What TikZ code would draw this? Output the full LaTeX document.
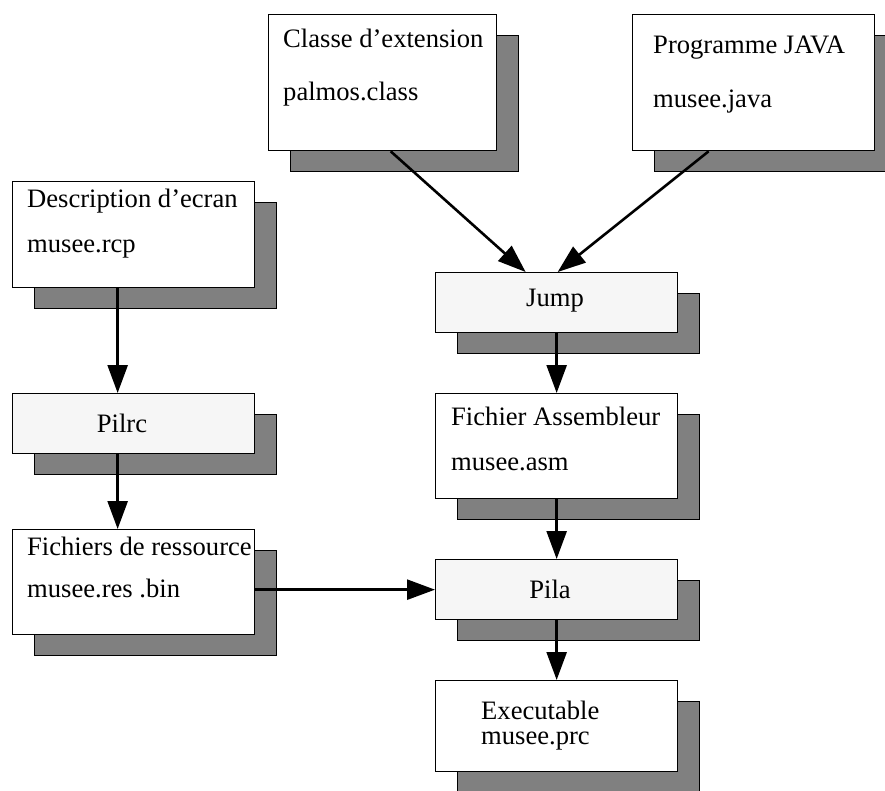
\documentclass[tikz,border=0pt]{standalone}
\usepackage{fontspec}
\setmainfont{Liberation Serif}
\usetikzlibrary{shapes,arrows.meta,positioning,shadows}
\definecolor{ombre}{gray}{0.5}
\definecolor{clair}{gray}{0.965}
\tikzset{
  boite/.style={draw, line width=1.3pt, fill=white, anchor=north west, inner sep=0pt,
    minimum width=242pt,
    drop shadow={shadow xshift=22pt, shadow yshift=-21pt, fill=ombre, draw=black,
      line width=1.3pt, opacity=1}},
  outil/.style={boite, fill=clair, minimum height=60pt},
  texte/.style={anchor=base west, inner sep=0pt},
  titre/.style={anchor=base, inner sep=0pt}
}
\begin{document}
\begin{tikzpicture}[x=1pt, y=-1pt, >={Triangle[length=28pt,width=20pt]},
font=\fontsize{26.6}{30}\selectfont]
        \useasboundingbox (0,0) rectangle (885,790);
        \clip (0,0) rectangle (885,790);
        % boites
        \node [boite, minimum width=228pt, minimum height=136pt] (cls) at (268,14) {};
        \node [boite, minimum height=136pt] (java) at (632,14) {};
        \node [boite, minimum height=106pt] (desc) at (12,181) {};
        \node [outil] (jump) at (435,272) {};
        \node [outil] (pilrc) at (12,393) {};
        \node [boite, minimum height=105pt] (asm) at (435,393) {};
        \node [boite, minimum height=105pt] (res) at (12,529) {};
        \node [outil] (pila) at (435,559) {};
        \node [boite, minimum height=91pt] (exe) at (435,680) {};
        % textes
        \node [texte] (cls1) at (283,47) {Classe d’extension};
        \node [texte] (cls2) at (283,100) {palmos.class};
        \node [texte] (java1) at (653,53) {Programme JAVA};
        \node [texte] (java2) at (653,107) {musee.java};
        \node [texte] (desc1) at (27,207) {Description d’ecran};
        \node [texte] (desc2) at (27,252) {musee.rcp};
        \node [titre] (jump1) at (555,306) {Jump};
        \node [titre] (pilrc1) at (122,432) {Pilrc};
        \node [texte] (asm1) at (451,425) {Fichier Assembleur};
        \node [texte] (asm2) at (451,470) {musee.asm};
        \node [texte] (res1) at (27,555) {Fichiers de ressource};
        \node [texte] (res2) at (27,597) {musee.res .bin};
        \node [titre] (pila1) at (550,598) {Pila};
        \node [texte] (exe1) at (481,719) {Executable};
        \node [texte] (exe2) at (481,744) {musee.prc};
        % fleches
        \draw [->, line width=2.6pt] ([xshift=8pt]cls.south) -- ([xshift=-31pt]jump.north);
        \draw [->, line width=2.6pt] ([xshift=-45pt]java.south) -- ([xshift=1pt]jump.north);
        \draw [->, line width=2.6pt] ([xshift=-16pt]desc.south) -- ([xshift=-16pt]pilrc.north);
        \draw [->, line width=2.6pt] ([xshift=-16pt]pilrc.south) -- ([xshift=-16pt]res.north);
        \draw [->, line width=2.6pt] (jump.south) -- (asm.north);
        \draw [->, line width=2.6pt] (asm.south) -- (pila.north);
        \draw [->, line width=2.6pt] (pila.south) -- (exe.north);
        \draw [->, line width=2.6pt] (res.east |- pila.west) -- (pila.west);
    \end{tikzpicture}
\end{document}
